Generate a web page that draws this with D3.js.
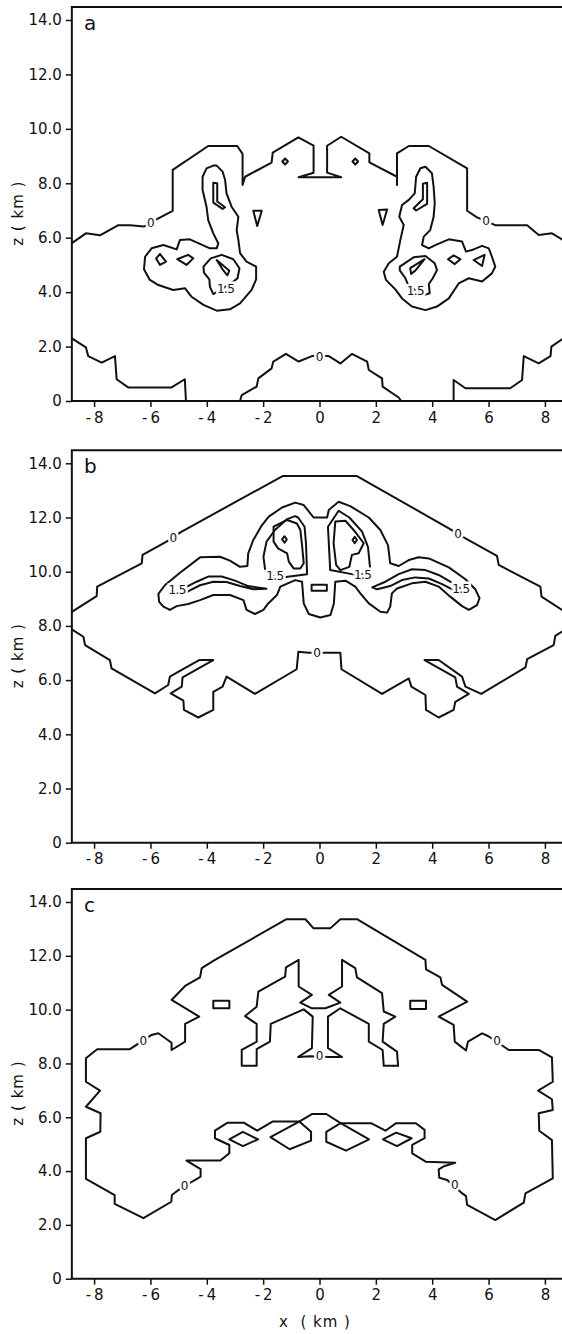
<!DOCTYPE html>
<html>
<head>
<meta charset="utf-8">
<script src="https://cdn.jsdelivr.net/npm/d3@7"></script>
<style>
  body { margin: 0; background: #fff; }
  svg { display: block; }
  text { font-family: "DejaVu Sans", sans-serif; fill: #111; }
</style>
</head>
<body>
<div id="chart"></div>
<script>
// axes
const xTicks = [-8, -6, -4, -2, 0, 2, 4, 6, 8];
const xTickText = ["-8", "-6", "-4", "-2", "0", "2", "4", "6", "8"];
const zTicks = [0, 2, 4, 6, 8, 10, 12, 14];
const zTickText = ["0", "2.0", "4.0", "6.0", "8.0", "10.0", "12.0", "14.0"];
const xExtent = [-8.79, 8.79];
const zTop = 14.48;

// ---- panel a : contours, (x km, z km) ----
const aZeroTop = [[-8.79,5.80],[-8.29,6.16],[-7.79,6.09],[-7.14,6.46],[-6.72,6.46],[-6.23,6.41],[-5.72,6.71],[-5.21,6.99],[-5.21,8.49],[-3.95,9.37],[-2.92,9.37],[-2.73,9.08],[-2.73,7.94],[-2.64,8.24],[-1.70,8.76],[-1.66,9.13],[-0.75,9.69],[-0.21,9.38],[-0.21,8.39],[-0.74,8.22],[0.77,8.22],[0.27,8.39],[0.27,9.38],[0.77,9.71],[1.77,9.10],[1.77,8.77],[2.75,8.24],[2.75,7.94],[2.75,9.10],[3.17,9.37],[3.88,9.37],[5.24,8.55],[5.24,6.99],[5.59,6.75],[6.24,6.46],[7.37,6.46],[7.78,6.10],[8.25,6.16],[8.61,5.94],[8.79,5.80]];
const aZeroLowL = [[-8.79,2.30],[-8.29,1.97],[-8.21,1.65],[-7.73,1.41],[-7.26,1.65],[-7.20,0.80],[-6.79,0.50],[-5.25,0.50],[-4.78,0.80],[-4.74,0]];
const aZeroLowMid = [[-2.82,0],[-2.76,0.22],[-2.23,0.53],[-2.17,0.83],[-1.70,1.20],[-1.64,1.45],[-1.19,1.73],[-0.74,1.45],[-0.27,1.65],[0.33,1.65],[0.74,1.38],[1.15,1.73],[1.69,1.45],[1.75,1.14],[2.22,0.83],[2.24,0.53],[2.81,0.13],[2.90,0]];
const aZeroLowR = [[4.76,0],[4.76,0.77],[5.18,0.47],[6.77,0.47],[7.19,0.77],[7.25,1.65],[7.78,1.38],[8.20,1.65],[8.23,2.00],[8.61,2.27],[8.79,2.39]];
const aLobeL = [[-3.77,8.65],[-4.01,8.55],[-4.15,8.24],[-4.15,7.75],[-4.01,7.14],[-3.95,6.65],[-3.77,6.16],[-3.59,5.79],[-3.65,5.61],[-3.89,5.61],[-4.60,5.94],[-4.95,5.92],[-5.07,5.57],[-5.54,5.73],[-5.96,5.61],[-6.19,5.30],[-6.23,4.84],[-6.02,4.45],[-5.72,4.26],[-5.19,4.08],[-4.77,4.14],[-4.54,3.83],[-4.12,3.53],[-3.65,3.32],[-3.18,3.37],[-2.82,3.59],[-2.41,4.08],[-2.25,4.47],[-2.25,4.94],[-2.59,5.12],[-2.82,5.43],[-2.88,5.92],[-2.94,6.28],[-2.88,6.77],[-3.12,7.14],[-3.30,7.63],[-3.35,8.12],[-3.44,8.43],[-3.65,8.65]];
const aLobeLUp = [[-3.77,8.02],[-3.63,8.00],[-3.63,7.33],[-3.35,7.12],[-3.44,7.06],[-3.77,7.29]];
const aLobeL15 = [[-3.77,3.93],[-3.89,4.20],[-3.91,4.47],[-4.10,4.72],[-4.12,4.94],[-3.86,5.24],[-3.47,5.37],[-3.06,5.21],[-2.84,4.88],[-2.91,4.51],[-3.10,4.35]];
const aLobeLCore = [[-3.65,5.18],[-3.20,4.79],[-3.27,4.62],[-3.44,4.84]];
const aLobeR = [[3.76,8.61],[3.58,8.55],[3.43,8.24],[3.38,7.63],[3.17,7.39],[2.93,7.20],[2.83,6.77],[2.99,6.47],[2.87,5.92],[2.75,5.30],[2.46,5.06],[2.28,4.75],[2.36,4.45],[2.69,4.10],[2.93,3.77],[3.28,3.47],[3.76,3.34],[4.17,3.47],[4.59,3.77],[4.94,4.32],[5.30,4.51],[5.77,4.39],[6.12,4.69],[6.24,4.94],[6.12,5.30],[6.01,5.61],[5.77,5.70],[5.47,5.57],[5.20,5.49],[5.06,5.86],[4.59,5.94],[4.11,5.73],[3.88,5.61],[3.64,5.73],[3.70,6.04],[3.93,6.28],[4.05,6.77],[4.09,7.26],[4.05,7.88],[3.99,8.37]];
const aLobeRUp = [[3.67,7.98],[3.82,8.02],[3.82,7.24],[3.43,7.00],[3.34,7.08],[3.67,7.41]];
const aLobeR15 = [[2.85,4.94],[3.34,5.28],[3.76,5.33],[4.09,5.06],[4.17,4.81],[4.02,4.51],[3.88,4.30],[3.91,3.96],[3.73,3.90],[3.17,4.20],[3.05,4.51],[2.85,4.80]];
const aLobeRCore = [[3.22,4.88],[3.73,5.21],[3.40,4.79],[3.25,4.67]];
const aSmall = [
  [[-5.80,5.24],[-5.66,5.40],[-5.45,5.12],[-5.66,5.00]],
  [[-5.05,5.21],[-4.66,5.37],[-4.48,5.24],[-4.72,5.00]],
  [[-2.35,6.99],[-2.05,6.99],[-2.21,6.43]],
  [[-1.32,8.80],[-1.22,8.91],[-1.12,8.80],[-1.22,8.69]],
  [[1.17,8.80],[1.27,8.91],[1.37,8.80],[1.27,8.69]],
  [[2.10,7.02],[2.40,7.04],[2.24,6.47]],
  [[4.56,5.21],[4.76,5.35],[5.00,5.21],[4.80,5.03]],
  [[5.47,5.18],[5.86,5.37],[5.77,4.96]]
];
const aLabels = [[-5.99,6.55,"0"],[5.91,6.63,"0"],[0,1.63,"0"],[-3.33,4.12,"1.5"],[3.40,4.05,"1.5"]];

// ---- panel b ----
const bZeroTop = [[-8.79,8.52],[-7.91,9.10],[-7.89,9.45],[-6.31,10.31],[-6.28,10.62],[-5.43,11.11],[-4.89,11.48],[-1.31,13.53],[1.33,13.53],[4.59,11.60],[5.18,11.23],[6.30,10.58],[6.36,10.25],[7.84,9.45],[7.88,9.08],[8.61,8.59],[8.79,8.46]];
const bZeroLow = [[-8.79,7.87],[-8.38,7.60],[-8.32,7.29],[-7.44,6.74],[-7.38,6.43],[-5.84,5.51],[-5.37,5.82],[-5.31,6.13],[-4.86,6.40],[-4.27,6.74],[-3.77,6.74],[-4.86,6.10],[-4.89,5.76],[-5.28,5.51],[-4.83,5.24],[-4.81,4.90],[-4.30,4.62],[-3.77,4.90],[-3.77,5.57],[-3.44,5.76],[-3.30,6.13],[-2.29,5.49],[-0.81,6.40],[-0.75,7.05],[-0.38,7.01],[0.27,7.01],[0.74,7.01],[0.78,6.40],[2.22,5.49],[3.17,6.06],[3.26,5.76],[3.76,5.45],[3.78,4.90],[4.23,4.62],[4.76,4.90],[4.82,5.20],[5.30,5.49],[4.88,5.76],[4.82,6.10],[3.73,6.74],[4.23,6.74],[5.06,6.13],[5.18,5.76],[5.74,5.49],[7.31,6.47],[7.37,6.77],[8.31,7.29],[8.37,7.63],[8.61,7.79],[8.79,7.91]];
const bOuter = [[-0.86,12.55],[-1.33,12.37],[-1.80,12.03],[-2.04,11.72],[-2.35,11.17],[-2.53,10.68],[-2.56,10.21],[-2.82,10.18],[-3.18,10.41],[-3.53,10.55],[-4.24,10.53],[-4.95,9.96],[-5.48,9.51],[-5.72,9.18],[-5.69,8.89],[-5.54,8.71],[-5.31,8.59],[-5.07,8.73],[-4.66,8.81],[-4.24,8.95],[-3.77,9.14],[-3.18,9.14],[-2.70,8.95],[-2.59,8.59],[-2.29,8.44],[-1.99,8.59],[-1.82,8.83],[-1.51,9.14],[-1.39,9.45],[-0.86,9.69],[-0.62,9.63],[-0.56,8.83],[-0.38,8.44],[0.03,8.31],[0.39,8.40],[0.51,8.83],[0.56,9.63],[0.92,9.67],[1.27,9.45],[1.45,9.20],[1.75,8.83],[2.16,8.52],[2.40,8.49],[2.51,8.71],[2.57,9.20],[2.75,9.38],[3.28,9.57],[3.76,9.63],[4.23,9.45],[4.64,9.08],[5.06,8.73],[5.30,8.59],[5.59,8.77],[5.68,9.02],[5.53,9.35],[5.18,9.72],[4.59,10.16],[3.88,10.49],[3.52,10.53],[3.17,10.43],[2.81,10.21],[2.51,10.31],[2.43,10.98],[2.16,11.54],[1.75,12.00],[1.09,12.42],[0.68,12.58],[0.33,12.28],[0.27,12.00],[-0.21,12.00],[-0.56,12.46]];
const bWingL = [[-5.00,9.32],[-4.86,9.37],[-4.36,9.63],[-3.95,9.82],[-3.47,9.82],[-3.00,9.67],[-2.53,9.47],[-1.88,9.37],[-2.35,9.35],[-2.82,9.47],[-3.30,9.62],[-3.77,9.63],[-4.24,9.50],[-4.72,9.25]];
const bWingR = [[1.87,9.42],[2.34,9.63],[2.81,9.91],[3.28,10.09],[3.76,10.06],[4.23,9.88],[4.64,9.63],[5.06,9.35],[4.76,9.32],[4.35,9.54],[3.88,9.75],[3.40,9.79],[2.93,9.69],[2.51,9.47],[2.04,9.35]];
const bLobeL = [[-1.93,10.09],[-1.99,10.55],[-1.88,11.11],[-1.58,11.54],[-1.17,11.93],[-0.87,12.05],[-0.76,12.00],[-0.53,11.66],[-0.48,11.05],[-0.44,9.91],[-1.33,9.79],[-1.63,9.82]];
const bLobeR = [[0.38,10.06],[0.30,11.66],[0.68,12.25],[1.06,12.00],[1.51,11.48],[1.72,10.92],[1.77,10.41],[1.80,10.06],[1.51,9.90],[1.15,9.91]];
const bCoreL = [[-1.63,11.66],[-1.15,11.91],[-0.80,11.78],[-0.68,11.54],[-0.62,10.98],[-0.56,10.31],[-0.68,10.12],[-0.92,10.12],[-1.09,10.37],[-1.15,10.68],[-1.47,10.86],[-1.63,11.11]];
const bCoreR = [[0.56,11.85],[0.92,11.88],[1.21,11.54],[1.57,11.05],[1.39,10.68],[1.15,10.62],[1.06,10.18],[0.74,10.06],[0.59,10.25],[0.50,11.05]];
const bSmall = [
  [[-1.33,11.19],[-1.24,11.31],[-1.16,11.19],[-1.24,11.07]],
  [[1.17,11.17],[1.25,11.29],[1.33,11.17],[1.25,11.05]],
  [[-0.28,9.52],[0.26,9.52],[0.26,9.30],[-0.28,9.30]]
];
const bLabels = [[-5.19,11.27,"0"],[4.92,11.39,"0"],[-0.09,7.01,"0"],[-5.05,9.32,"1.5"],[-1.58,9.84,"1.5"],[1.53,9.88,"1.5"],[5.02,9.38,"1.5"]];

// ---- panel c ----
const cOuter = [[-1.17,13.36],[-3.71,11.85],[-4.18,11.54],[-4.24,11.20],[-4.77,10.88],[-5.25,10.36],[-4.27,9.74],[-4.77,9.47],[-4.77,8.81],[-5.25,8.50],[-5.25,8.77],[-5.72,9.12],[-5.96,9.06],[-6.55,8.65],[-6.73,8.53],[-7.89,8.53],[-8.29,8.19],[-8.29,7.32],[-7.79,6.99],[-8.29,6.39],[-7.77,6.15],[-7.78,5.46],[-8.29,5.22],[-8.29,3.71],[-7.27,3.11],[-7.27,2.78],[-6.25,2.25],[-5.26,2.86],[-5.24,3.11],[-5.04,3.27],[-4.47,3.64],[-4.22,3.79],[-4.22,4.07],[-4.72,4.39],[-3.52,4.39],[-3.20,4.66],[-3.20,4.97],[-3.71,5.22],[-3.71,5.50],[-3.26,5.80],[-2.69,5.80],[-2.21,5.50],[-1.67,5.84],[-0.72,5.84],[-0.27,6.12],[0.24,6.12],[0.75,5.78],[1.83,5.78],[2.34,5.50],[2.72,5.78],[3.42,5.78],[3.73,5.53],[3.73,5.22],[3.29,4.97],[3.29,4.66],[3.77,4.35],[4.82,4.31],[4.44,4.19],[4.23,4.06],[4.25,3.75],[4.53,3.67],[5.03,3.20],[5.20,3.07],[5.24,2.74],[6.24,2.18],[7.25,2.83],[7.31,3.17],[8.28,3.73],[8.25,5.15],[7.80,5.50],[7.78,6.15],[8.28,6.27],[8.25,6.67],[7.76,6.99],[8.28,7.32],[8.25,8.23],[7.78,8.50],[6.72,8.50],[5.98,9.02],[5.77,9.12],[5.27,8.81],[5.20,8.48],[4.80,8.81],[4.76,9.43],[4.23,9.74],[5.24,10.30],[4.35,10.92],[4.29,11.20],[3.78,11.50],[3.76,11.85],[1.33,13.36],[0.74,13.36],[0.38,13.02],[-0.21,13.02],[-0.50,13.36]];
const cInner = [[-2.76,7.91],[-2.76,8.50],[-2.23,8.81],[-2.23,9.47],[-2.64,9.76],[-2.23,10.11],[-2.17,10.67],[-1.22,11.23],[-1.19,11.57],[-0.74,11.85],[-0.74,10.86],[-0.27,10.55],[-0.68,10.26],[-0.27,10.05],[0.21,10.05],[0.74,10.26],[0.33,10.55],[0.80,10.86],[0.80,11.85],[1.27,11.54],[1.33,11.20],[2.22,10.61],[2.28,9.93],[2.69,9.74],[2.28,9.47],[2.24,8.81],[2.75,8.44],[2.79,7.91],[2.28,7.91],[2.24,8.50],[1.75,8.81],[1.75,9.47],[0.74,10.05],[0.30,9.74],[0.30,8.57],[0.80,8.24],[0.33,8.24],[-0.33,8.27],[-0.76,8.24],[-0.27,8.57],[-0.24,9.74],[-0.56,10.01],[-1.73,9.47],[-1.76,8.81],[-2.23,8.53],[-2.23,7.91]];
const cSmall = [
  [[-3.77,10.33],[-3.20,10.33],[-3.20,10.05],[-3.77,10.05]],
  [[3.22,10.33],[3.78,10.33],[3.78,10.02],[3.22,10.02]],
  [[-3.20,5.18],[-2.72,5.46],[-2.18,5.18],[-2.72,4.93]],
  [[-1.74,5.26],[-0.72,5.84],[-0.30,5.46],[-0.30,5.13],[-1.06,4.81]],
  [[0.75,5.78],[0.24,5.46],[0.24,5.09],[0.94,4.76],[1.76,5.18]],
  [[2.25,5.18],[2.72,5.43],[3.27,5.22],[2.75,4.93]]
];
const cLabels = [[-6.25,8.85,"0"],[6.30,8.84,"0"],[-4.79,3.45,"0"],[4.80,3.48,"0"],[0.0,8.27,"0"]];

// ---- layout ----
const W = 562, H = 1334;
const panels = [
  { tag: "a", base: 401, top14: 20,
    open: [aZeroTop, aZeroLowL, aZeroLowMid, aZeroLowR],
    closed: [aLobeL, aLobeLUp, aLobeL15, aLobeLCore, aLobeR, aLobeRUp, aLobeR15, aLobeRCore, ...aSmall],
    labels: aLabels },
  { tag: "b", base: 842.7, top14: 463.3,
    open: [bZeroTop, bZeroLow],
    closed: [bOuter, bWingL, bWingR, bLobeL, bLobeR, bCoreL, bCoreR, ...bSmall],
    labels: bLabels },
  { tag: "c", base: 1278.7, top14: 902,
    open: [],
    closed: [cOuter, cInner, ...cSmall],
    labels: cLabels }
];

const svg = d3.select("#chart").append("svg").attr("width", W).attr("height", H);
const x = d3.scaleLinear().domain([-8, 8]).range([94.1, 544.9]);

panels.forEach(p => {
  const y = d3.scaleLinear().domain([0, 14]).range([p.base, p.top14]);
  const g = svg.append("g");
  const x0 = x(xExtent[0]), x1 = x(xExtent[1]);
  const yT = y(zTop), yB = y(0);

  // frame
  g.append("path")
    .attr("d", `M${x0},${yT}H${x1}V${yB}H${x0}Z`)
    .attr("fill", "none").attr("stroke", "#111").attr("stroke-width", 2);

  const ay = g.append("g").attr("transform", `translate(${x0},0)`)
    .call(d3.axisLeft(y).tickValues(zTicks).tickFormat((d, i) => zTickText[i]).tickSize(6).tickPadding(4));
  ay.select(".domain").remove();
  ay.selectAll("line").attr("stroke", "#111").attr("stroke-width", 1.5);
  ay.selectAll("text").attr("font-family", "DejaVu Sans").attr("font-size", 15).attr("fill", "#111");

  const ax = g.append("g").attr("transform", `translate(0,${yB})`)
    .call(d3.axisBottom(x).tickValues(xTicks).tickFormat((d, i) => xTickText[i]).tickSize(6).tickPadding(5));
  ax.select(".domain").remove();
  ax.selectAll("line").attr("stroke", "#111").attr("stroke-width", 1.5);
  ax.selectAll("text").attr("font-family", "DejaVu Sans").attr("font-size", 15).attr("fill", "#111")
    .text((d, i) => xTickText[i].replace("-", "-\u2009"));

  // y title
  g.append("text")
    .attr("transform", `translate(18,${y(6.9)}) rotate(-90)`)
    .attr("text-anchor", "middle").attr("dy", "0.35em")
    .attr("font-size", 15).style("letter-spacing", "1px").style("white-space", "pre")
    .text("z ( km )");

  // panel letter
  g.append("text").attr("x", 84).attr("y", yT + 23).attr("font-size", 20).text(p.tag);

  const line = d3.line().x(d => x(d[0])).y(d => y(d[1]));
  const lineClosed = d3.line().x(d => x(d[0])).y(d => y(d[1])).curve(d3.curveLinearClosed);

  g.selectAll("path.open").data(p.open).join("path").attr("class", "open")
    .attr("d", line).attr("fill", "none").attr("stroke", "#111")
    .attr("stroke-width", 2).attr("stroke-linejoin", "round");
  g.selectAll("path.closed").data(p.closed).join("path").attr("class", "closed")
    .attr("d", lineClosed).attr("fill", "none").attr("stroke", "#111")
    .attr("stroke-width", 2).attr("stroke-linejoin", "round");

  // contour labels sit in a white gap cut out of the line
  g.selectAll("text.lbl").data(p.labels).join("text").attr("class", "lbl")
    .attr("x", d => x(d[0])).attr("y", d => y(d[1]))
    .attr("text-anchor", "middle").attr("dy", "0.36em")
    .attr("font-size", 12).style("letter-spacing", d => d[2] === "1.5" ? "-0.6px" : "0")
    .style("stroke", "#fff").style("stroke-width", "5px").style("paint-order", "stroke")
    .style("fill", "#111")
    .text(d => d[2]);
});

// x title
svg.append("text").attr("x", 279).attr("y", 1327).attr("font-size", 15)
  .style("letter-spacing", "1px").style("white-space", "pre").text("x  ( km )");
</script>
</body>
</html>
